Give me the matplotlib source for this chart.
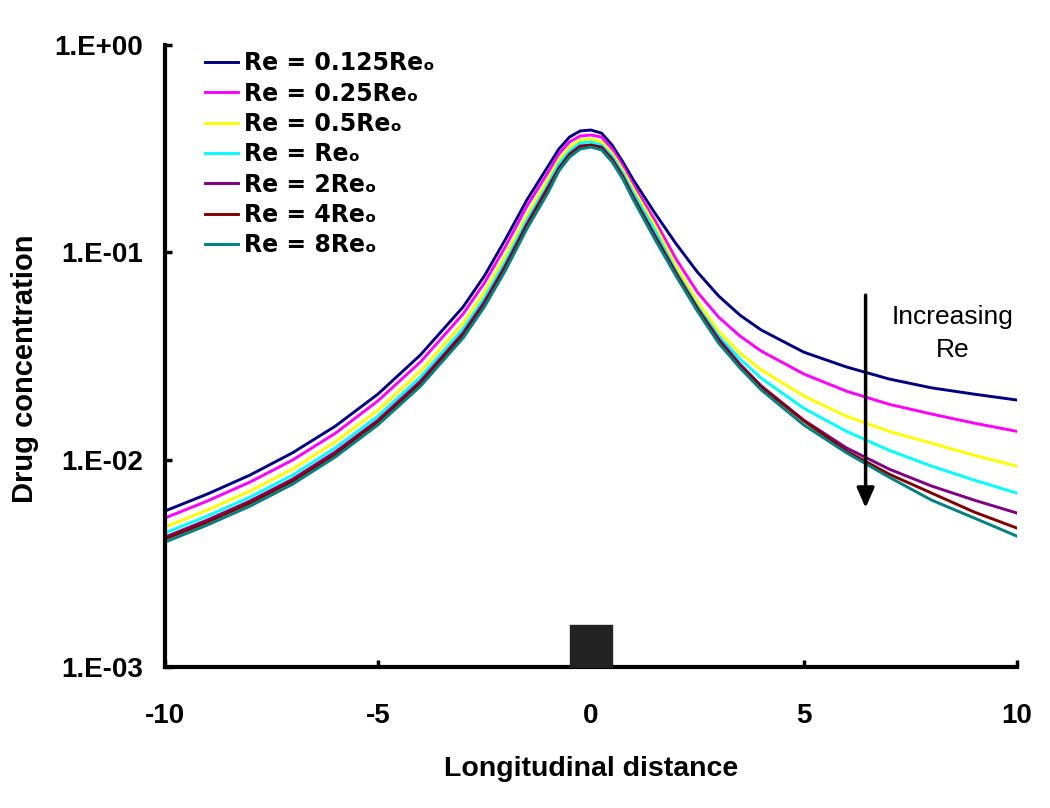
import matplotlib
matplotlib.use('Agg')
import matplotlib.pyplot as plt
from matplotlib.ticker import FixedLocator, NullLocator

# longitudinal positions (stent centred at 0)
x = [-10, -9, -8, -7, -6, -5, -4, -3, -2.5, -2, -1.5, -1, -0.75, -0.5, -0.25, 0,
     0.25, 0.5, 0.75, 1, 1.5, 2, 2.5, 3, 3.5, 4, 5, 6, 7, 8, 9, 10]

# drug concentration, one list per Reynolds number
re_0125 = [0.00565, 0.00683, 0.00843, 0.0108, 0.0145, 0.0207, 0.0320, 0.0545, 0.0769, 0.116,
           0.179, 0.261, 0.315, 0.360, 0.385, 0.389, 0.376, 0.329, 0.273, 0.223, 0.155,
           0.110, 0.0804, 0.0616, 0.0498, 0.0422, 0.0330, 0.0280, 0.0245, 0.0222, 0.0207, 0.0194]
re_025 = [0.00523, 0.00632, 0.00780, 0.00996, 0.0134, 0.0192, 0.0296, 0.0504, 0.0711, 0.107,
          0.167, 0.244, 0.298, 0.341, 0.364, 0.368, 0.360, 0.315, 0.261, 0.211, 0.143,
          0.0929, 0.0643, 0.0487, 0.0395, 0.0334, 0.0259, 0.0214, 0.0185, 0.0166, 0.0150, 0.0137]
re_05 = [0.00473, 0.00572, 0.00706, 0.00901, 0.0122, 0.0173, 0.0267, 0.0456, 0.0644, 0.0970,
         0.151, 0.226, 0.279, 0.322, 0.348, 0.352, 0.341, 0.301, 0.250, 0.202, 0.135,
         0.0859, 0.0582, 0.0417, 0.0327, 0.0271, 0.0203, 0.0162, 0.0137, 0.0120, 0.0105, 0.00931]
re_1 = [0.00443, 0.00535, 0.00660, 0.00843, 0.0114, 0.0162, 0.0250, 0.0427, 0.0602, 0.0908,
        0.143, 0.214, 0.267, 0.308, 0.337, 0.341, 0.329, 0.291, 0.241, 0.193, 0.128,
        0.0812, 0.0551, 0.0395, 0.0306, 0.0247, 0.0177, 0.0137, 0.0111, 0.00931, 0.00797, 0.00690]
re_2 = [0.00423, 0.00512, 0.00632, 0.00806, 0.0109, 0.0155, 0.0239, 0.0408, 0.0576, 0.0868,
        0.137, 0.207, 0.255, 0.298, 0.326, 0.329, 0.322, 0.282, 0.233, 0.185, 0.121,
        0.0795, 0.0539, 0.0382, 0.0289, 0.0227, 0.0155, 0.0114, 0.00901, 0.00746, 0.00638, 0.00553]
re_4 = [0.00414, 0.00500, 0.00618, 0.00788, 0.0106, 0.0152, 0.0234, 0.0399, 0.0563, 0.0849,
        0.134, 0.202, 0.252, 0.295, 0.322, 0.329, 0.318, 0.279, 0.231, 0.183, 0.1185,
        0.0786, 0.0533, 0.0373, 0.0283, 0.0224, 0.0154, 0.0110, 0.00852, 0.00690, 0.00559, 0.00468]
re_8 = [0.00400, 0.00484, 0.00597, 0.00762, 0.0103, 0.0147, 0.0226, 0.0386, 0.0545, 0.0821,
        0.130, 0.195, 0.247, 0.288, 0.315, 0.322, 0.312, 0.273, 0.226, 0.179, 0.116,
        0.0769, 0.0521, 0.0365, 0.0277, 0.0217, 0.0147, 0.0108, 0.00824, 0.00638, 0.00523, 0.00428]

series = [re_0125, re_025, re_05, re_1, re_2, re_4, re_8]
labels = ['Re = 0.125Re\u2092', 'Re = 0.25Re\u2092', 'Re = 0.5Re\u2092', 'Re = Re\u2092',
          'Re = 2Re\u2092', 'Re = 4Re\u2092', 'Re = 8Re\u2092']
colors = ['#000080', '#ff00ff', '#ffff00', '#00ffff', '#800080', '#800000', '#008080']

xticks = [-10, -5, 0, 5, 10]
yticks = [1e-3, 1e-2, 1e-1, 1]
ytick_labels = ['1.E-03', '1.E-02', '1.E-01', '1.E+00']

# stent block on the axis and the "increasing Re" arrow
stent_x = [-0.5, 0.5]
stent_top = 1.6e-3
arrow_x = 6.45
arrow_start, arrow_end = 0.0622, 0.00585
note_xy = (8.5, 0.0405)

fig = plt.figure(figsize=(10.5, 8.08), dpi=100)
ax = fig.add_axes([0.157, 0.1745, 0.8114, 0.7698])

for ys, lab, c in zip(series, labels, colors):
    ax.plot(x, ys, color=c, lw=2.1, label=lab)

ax.fill_between(stent_x, yticks[0], stent_top, color='#222222', zorder=3)

ax.annotate('', xy=(arrow_x, arrow_end), xytext=(arrow_x, arrow_start),
            arrowprops=dict(arrowstyle='-|>,head_length=0.8,head_width=0.35', lw=2.5,
                            color='black', mutation_scale=15, shrinkA=0, shrinkB=0))
ax.text(note_xy[0], note_xy[1], 'Increasing\nRe', ha='center', va='center',
        fontsize=19, family='Liberation Sans', linespacing=1.45)

ax.set_yscale('log')
ax.set_xlim(-10, 10)
ax.set_ylim(1e-3, 1)
ax.xaxis.set_major_locator(FixedLocator(xticks))
ax.yaxis.set_major_locator(FixedLocator(yticks))
ax.yaxis.set_minor_locator(NullLocator())
ax.set_yticklabels(ytick_labels)
ax.set_xticklabels([str(t) for t in xticks])

for s in ['top', 'right']:
    ax.spines[s].set_visible(False)
for s in ['left', 'bottom']:
    ax.spines[s].set_linewidth(3)

ax.tick_params(axis='both', direction='in', length=5, width=2.5)
ax.tick_params(axis='x', pad=26)
ax.tick_params(axis='y', pad=16)
for t in ax.get_xticklabels() + ax.get_yticklabels():
    t.set_fontfamily('Liberation Sans')
    t.set_fontweight('bold')
    t.set_fontsize(20)

ax.set_xlabel('Longitudinal distance', fontsize=20.5, fontweight='bold',
              family='Liberation Sans', va='center')
ax.xaxis.set_label_coords(0.5, -0.164)
ax.set_ylabel('Drug concentration', fontsize=21, fontweight='bold',
              family='Liberation Sans', va='center')
ax.yaxis.set_label_coords(-0.164, 0.48)

leg = ax.legend(loc='upper left', bbox_to_anchor=(0.047, 0.990), frameon=False,
                borderpad=0, borderaxespad=0, handlelength=1.4, handletextpad=0.25,
                labelspacing=0.27, prop={'family': 'DejaVu Sans', 'weight': 'bold', 'size': 17})

fig.savefig('out.png', dpi=100)
